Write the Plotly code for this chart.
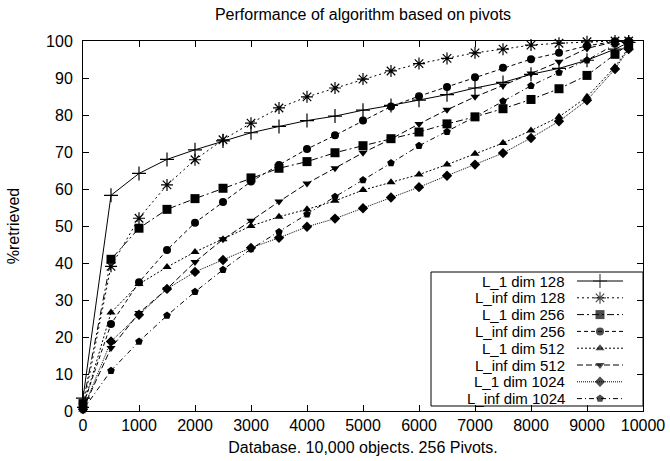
import plotly.graph_objects as go

# ---- data ----
x_objects = [0, 500, 1000, 1500, 2000, 2500, 3000, 3500, 4000, 4500, 5000,
             5500, 6000, 6500, 7000, 7500, 8000, 8500, 9000, 9500, 9744]

l1_128 = [3.5, 58.3, 64.2, 68.0, 70.6, 73.0, 75.2, 76.9, 78.5, 79.7, 81.3,
          82.6, 84.0, 85.5, 87.3, 88.8, 91.0, 92.6, 94.8, 97.8, 99.6]
linf_128 = [1.0, 39.1, 52.1, 61.1, 67.9, 73.3, 77.8, 81.9, 84.9, 87.3, 89.7,
            91.9, 93.9, 95.3, 96.8, 97.8, 98.9, 99.4, 99.8, 100.0, 100.0]
l1_256 = [2.0, 41.0, 49.4, 54.5, 57.4, 60.2, 63.0, 65.6, 67.4, 69.8, 71.7,
          73.6, 75.4, 77.6, 79.5, 81.7, 84.2, 87.1, 90.7, 96.4, 99.1]
linf_256 = [1.5, 23.5, 34.8, 43.5, 50.9, 56.5, 62.0, 66.5, 70.8, 74.5, 78.5,
            82.3, 85.1, 87.6, 90.2, 92.8, 95.1, 96.8, 98.7, 99.9, 100.0]
l1_512 = [1.0, 26.6, 34.3, 38.9, 43.0, 46.4, 50.0, 52.5, 54.5, 56.8, 59.7,
          61.8, 63.9, 66.6, 69.5, 72.4, 75.8, 79.5, 84.9, 93.0, 98.2]
linf_512 = [0.5, 17.0, 26.5, 33.0, 40.3, 46.4, 51.4, 56.6, 61.5, 65.6, 69.8,
            73.5, 77.6, 81.4, 84.9, 88.0, 91.2, 94.4, 98.0, 99.8, 100.0]
l1_1024 = [0.5, 18.8, 26.0, 33.0, 37.6, 40.8, 44.1, 46.8, 49.8, 52.0, 54.8,
           57.7, 60.5, 63.6, 66.6, 69.7, 73.8, 78.3, 84.0, 92.4, 97.8]
linf_1024 = [0.3, 10.9, 18.8, 25.8, 32.2, 38.2, 43.8, 48.4, 53.2, 57.9, 62.4,
             67.0, 71.7, 75.5, 79.5, 83.7, 87.9, 91.5, 94.8, 99.1, 99.5]

series_names = ["L_1 dim 128", "L_inf dim 128", "L_1 dim 256", "L_inf dim 256",
                "L_1 dim 512", "L_inf dim 512", "L_1 dim 1024", "L_inf dim 1024"]
series_values = [l1_128, linf_128, l1_256, linf_256, l1_512, linf_512, l1_1024, linf_1024]

x_ticks = [0, 1000, 2000, 3000, 4000, 5000, 6000, 7000, 8000, 9000, 10000]
y_ticks = [0, 10, 20, 30, 40, 50, 60, 70, 80, 90, 100]

title_text = "Performance of algorithm based on pivots"
x_title = "Database. 10,000 objects. 256 Pivots."
y_title = "%retrieved"

# ---- styles ----
styles = [
    dict(dash="solid", symbol="cross-thin", size=10, open=True),
    dict(dash="2px,3px", symbol="asterisk", size=10, open=True),
    dict(dash="7px,3px,2px,3px", symbol="square", size=9, open=False),
    dict(dash="4px,3px", symbol="circle", size=8, open=False),
    dict(dash="2px,2px", symbol="triangle-up", size=8, open=False),
    dict(dash="6px,3px", symbol="triangle-down", size=8, open=False),
    dict(dash="1px,1px", symbol="diamond", size=8, open=False),
    dict(dash="5px,3px,1px,3px", symbol="pentagon", size=8, open=False),
]

FONT = "Liberation Sans, Arial, Helvetica, sans-serif"
FS = 16
FS_LEG = 15

fig = go.Figure()

for name, vals, st in zip(series_names, series_values, styles):
    fig.add_trace(go.Scatter(
        x=x_objects, y=vals, name=name, mode="lines+markers",
        line=dict(color="black", width=1, dash=st["dash"]),
        marker=dict(symbol=st["symbol"], size=st["size"], color="black",
                    line=dict(color="black", width=1.2 if st["open"] else 0)),
        showlegend=False, cliponaxis=False,
    ))

# ---- custom gnuplot-style legend (text right-aligned, sample on the right) ----
LEFT, RIGHT, TOP, BOTTOM = 83, 643, 41, 411
W, H = RIGHT - LEFT, BOTTOM - TOP
def px(xp):
    return (xp - LEFT) / W
def py(yp):
    return (BOTTOM - yp) / H

row0, row_step = 281.0, 16.8
for i, (name, st) in enumerate(zip(series_names, styles)):
    yy = py(row0 + row_step * i)
    fig.add_trace(go.Scatter(
        x=[px(577), px(600), px(623)], y=[yy, yy, yy],
        xaxis="x2", yaxis="y2", mode="lines+markers",
        line=dict(color="black", width=1, dash=st["dash"]),
        marker=dict(symbol=st["symbol"], size=[0, st["size"], 0], color="black",
                    line=dict(color="black", width=1.2 if st["open"] else 0)),
        showlegend=False, hoverinfo="skip", cliponaxis=False,
    ))
    fig.add_annotation(x=px(567), y=yy, xref="paper", yref="paper",
                       text=name, showarrow=False, xanchor="right", yanchor="middle",
                       font=dict(family=FONT, size=FS_LEG, color="black"))

fig.add_shape(type="rect", xref="paper", yref="paper",
              x0=px(431), x1=1.0, y0=py(406), y1=py(272),
              line=dict(color="black", width=1), fillcolor="white", layer="below")

axis_common = dict(
    showline=True, linecolor="black", linewidth=1, mirror="ticks",
    ticks="inside", ticklen=6, tickcolor="black", tickwidth=1,
    showgrid=False, zeroline=False, automargin=False,
    tickfont=dict(family=FONT, size=FS, color="black"),
)

fig.update_layout(
    width=670, height=461,
    margin=dict(l=LEFT, r=670 - RIGHT, t=TOP, b=461 - BOTTOM, autoexpand=False),
    paper_bgcolor="white", plot_bgcolor="white",
    font=dict(family=FONT, size=FS, color="black"),
    title=dict(text=title_text, xref="paper", x=0.5, xanchor="center",
               yref="container", y=1 - 14 / 461, yanchor="middle", automargin=False,
               font=dict(family=FONT, size=FS, color="black")),
    xaxis=dict(range=[0, 10000], tickvals=x_ticks, ticktext=[str(v) for v in x_ticks],
               title=dict(text=x_title, standoff=8,
                          font=dict(family=FONT, size=FS, color="black")),
               ticklabelstandoff=0, **axis_common),
    yaxis=dict(range=[0, 100], tickvals=y_ticks, ticktext=[str(v) for v in y_ticks],
               title=dict(text=y_title, standoff=22,
                          font=dict(family=FONT, size=FS, color="black")),
               ticklabelstandoff=6, **axis_common),
    xaxis2=dict(range=[0, 1], overlaying="x", anchor="y2", visible=False, fixedrange=True),
    yaxis2=dict(range=[0, 1], overlaying="y", anchor="x2", visible=False, fixedrange=True),
    hovermode=False,
)

fig.write_html(
    "out.html",
    config={"displayModeBar": False, "staticPlot": True},
    post_script="document.body.style.margin='0';document.body.style.overflow='hidden';",
)
